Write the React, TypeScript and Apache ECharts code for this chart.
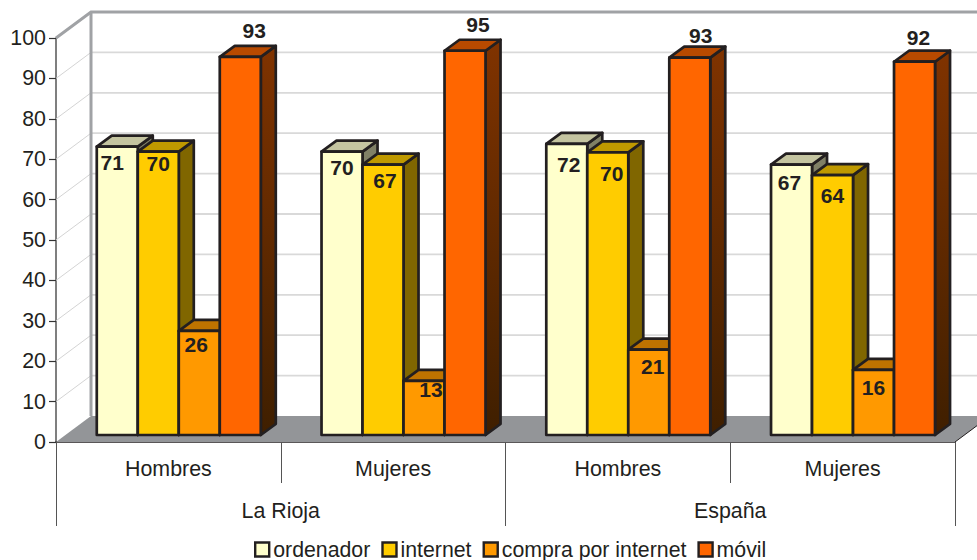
import React, { useEffect, useRef } from "react";
import * as echarts from "echarts";

const groups = ["Hombres", "Mujeres", "Hombres", "Mujeres"];
const regions = ["La Rioja", "España"];
const ticks = [0, 10, 20, 30, 40, 50, 60, 70, 80, 90, 100];
const seriesNames = ["ordenador", "internet", "compra por internet", "móvil"];

// Heights; the printed labels are these values rounded.
const ordenador = [70.9, 69.7, 71.6, 66.5];
const internet = [69.7, 66.5, 69.5, 63.9];
const compra = [25.6, 13.3, 21, 16];
const movil = [93, 94.5, 92.8, 91.8];
const allValues = [ordenador, internet, compra, movil];

const fronts = ["#FFFFCC", "#FFCC00", "#FF9900", "#FF6600"];
const tops = ["#C4C4A0", "#BF9900", "#BF7300", "#B84A00"];
const sidesTop = ["#808066", "#806600", "#804D00", "#803300"];
const sidesBottom = ["#808066", "#806600", "#804D00", "#3F1F00"];

// label nudges (px) from the centre of a bar's top front edge
const labelNudges = [
  [[-5, 16], [0, 16], [2, 21], [-2, 18]],
  [[0, 12], [2, 16], [4, 21], [0, 20]],
  [[-3, 14], [7, 9], [4, 17], [0, 18]],
  [[14, -26], [13, -26], [11, -22], [4, -24]],
];

const INK = "#231F20";
const FONT = "'Liberation Sans', Arial, sans-serif";
const WALL_DX = 35;
const WALL_DY = 26;
const BAR_DX = 15;
const BAR_DY = 11;
const GROUP_SHIFT = 10.4;
const BAR_WIDTH = 41;
const BASE_LIFT = 7;
const BAR_SCALE = 1.0065;

function renderWall(params: any, api: any) {
  const tick = api.value(1);
  const [x0, y] = [params.coordSys.x, api.coord([0, tick])[1]];
  const xFront = params.coordSys.x + params.coordSys.width;
  const xb = x0 + WALL_DX;
  const yb = y - WALL_DY;
  const children: any[] = [];
  if (tick === ticks[0]) {
    const topY = params.coordSys.y - WALL_DY;
    children.push({
      type: "polygon",
      shape: { points: [[x0, y], [xb, yb], [xFront + WALL_DX, yb], [xFront, y]] },
      style: { fill: "#939598" },
      z2: 1,
    });
    children.push({
      type: "polyline",
      shape: { points: [[x0, params.coordSys.y], [xb, topY], [xFront + WALL_DX, topY]] },
      style: { fill: "none", stroke: "#A0A2A5", lineWidth: 3 },
      z2: 2,
    });
    children.push({
      type: "line",
      shape: { x1: xb, y1: topY, x2: xb, y2: yb },
      style: { stroke: "#A0A2A5", lineWidth: 3 },
      z2: 2,
    });
    children.push({
      type: "line",
      shape: { x1: xFront, y1: y, x2: xFront + WALL_DX, y2: yb },
      style: { stroke: INK, lineWidth: 1 },
      z2: 2,
    });
  } else if (tick !== ticks[ticks.length - 1]) {
    children.push({
      type: "line",
      shape: { x1: x0, y1: y, x2: xb, y2: yb },
      style: { stroke: "#D4D4D4", lineWidth: 1 },
      z2: 0,
    });
    children.push({
      type: "line",
      shape: { x1: xb, y1: yb, x2: xFront + WALL_DX, y2: yb },
      style: { stroke: "#D9D9D9", lineWidth: 1.8 },
      z2: 0,
    });
  }
  return { type: "group", children };
}

function renderBar(seriesIndex: number) {
  return (params: any, api: any) => {
    const cat = api.value(0);
    const val = api.value(1);
    const base = api.coord([cat, 0]);
    const top = api.coord([cat, val]);
    const h = (base[1] - top[1]) * BAR_SCALE;
    const yB = base[1] - BASE_LIFT;
    const yT = yB - h;
    const xL = base[0] + GROUP_SHIFT - 2 * BAR_WIDTH + seriesIndex * BAR_WIDTH;
    const xR = xL + BAR_WIDTH;
    const stroke = { stroke: INK, lineWidth: 2.7, lineJoin: "round" };
    const z2 = 10 + seriesIndex;
    const nudge = labelNudges[seriesIndex][cat];
    return {
      type: "group",
      children: [
        {
          type: "polygon",
          z2,
          shape: { points: [[xR, yT], [xR + BAR_DX, yT - BAR_DY], [xR + BAR_DX, yB - BAR_DY], [xR, yB]] },
          style: {
            ...stroke,
            fill: new echarts.graphic.LinearGradient(0, 0, 0, 1, [
              { offset: 0, color: sidesTop[seriesIndex] },
              { offset: 1, color: sidesBottom[seriesIndex] },
            ]),
          },
        },
        {
          type: "polygon",
          z2,
          shape: { points: [[xL, yT], [xL + BAR_DX, yT - BAR_DY], [xR + BAR_DX, yT - BAR_DY], [xR, yT]] },
          style: { ...stroke, fill: tops[seriesIndex] },
        },
        {
          type: "polygon",
          z2,
          shape: { points: [[xL, yT], [xR, yT], [xR, yB], [xL, yB]] },
          style: { ...stroke, fill: fronts[seriesIndex] },
        },
        {
          type: "text",
          z2: 100,
          x: (xL + xR) / 2 + nudge[0],
          y: yT + nudge[1],
          style: {
            text: String(Math.round(val)),
            fill: INK,
            fontFamily: FONT,
            fontWeight: "bold",
            fontSize: 21,
            align: "center",
            verticalAlign: "middle",
          },
        },
      ],
    };
  };
}

export default function App() {
  const ref = useRef<HTMLDivElement>(null);
  useEffect(() => {
    document.body.style.margin = "0";
    const chart = echarts.init(ref.current!, undefined, { renderer: "svg" });
    chart.setOption({
      animation: false,
      backgroundColor: "#FFFFFF",
      textStyle: { fontFamily: FONT, color: INK },
      grid: { left: 56, top: 38, width: 899, height: 404 },
      legend: {
        data: seriesNames,
        left: 254,
        top: 539,
        icon: "rect",
        itemWidth: 14,
        itemHeight: 14,
        itemGap: 11,
        selectedMode: false,
        padding: 0,
        itemStyle: { borderColor: INK, borderWidth: 2.4 },
        textStyle: { fontFamily: FONT, fontSize: 21.3, color: INK, padding: [0, 0, 0, -1] },
      },
      xAxis: [
        {
          type: "category",
          data: groups,
          position: "bottom",
          axisLine: { show: true, lineStyle: { color: INK, width: 1.5 } },
          axisTick: { show: true, length: 41, lineStyle: { color: "#555555", width: 1 } },
          axisLabel: { margin: 16, fontSize: 21.4, fontFamily: FONT, color: INK },
        },
        {
          type: "category",
          data: regions,
          position: "bottom",
          axisLine: { show: false },
          axisTick: { show: true, length: 84, lineStyle: { color: "#555555", width: 1 } },
          axisLabel: { margin: 58, fontSize: 21.4, fontFamily: FONT, color: INK },
        },
      ],
      yAxis: {
        type: "value",
        min: 0,
        max: 100,
        interval: 10,
        axisLine: { show: true, lineStyle: { color: "#555555", width: 1.5 } },
        axisTick: { show: true, length: 7, lineStyle: { color: "#333333", width: 1.2 } },
        axisLabel: { margin: 10, fontSize: 21.4, fontFamily: FONT, color: INK, padding: [0, 0, 3, 0] },
        splitLine: { show: false },
      },
      series: [
        {
          type: "custom",
          name: "pared",
          z: 1,
          silent: true,
          encode: { x: 0, y: 1 },
          renderItem: renderWall,
          data: ticks.map((t) => [0, t]),
        },
        ...seriesNames.map((name, i) => ({
          type: "custom",
          name,
          z: 2,
          encode: { x: 0, y: 1 },
          itemStyle: { color: fronts[i] },
          renderItem: renderBar(i),
          data: allValues[i].map((v, c) => [c, v]),
        })),
      ],
    });
    return () => chart.dispose();
  }, []);
  return <div ref={ref} style={{ width: 977, height: 560 }} />;
}
